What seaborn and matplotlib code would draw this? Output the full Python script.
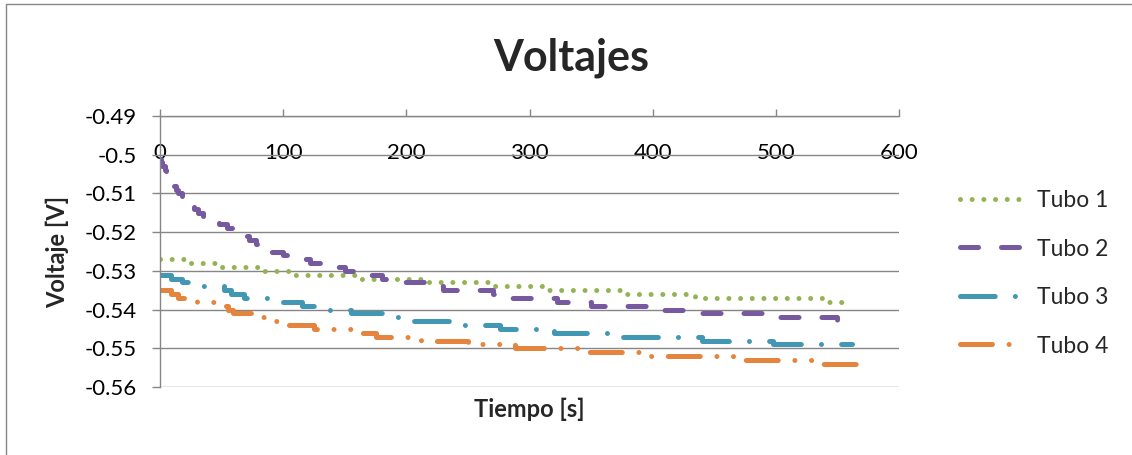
import matplotlib
matplotlib.use("Agg")
import matplotlib.pyplot as plt
import matplotlib.ticker as mticker
from matplotlib.lines import Line2D
import seaborn as sns
import pandas as pd

# step breakpoints (tiempo [s], voltaje [V])
tubo1_t = [0, 23, 45, 80, 110, 162, 215, 268, 312, 375, 434, 539, 561]
tubo1_v = [-0.527, -0.528, -0.529, -0.530, -0.531, -0.532, -0.533, -0.534,
           -0.535, -0.536, -0.537, -0.538, -0.538]

tubo2_t = [0, 1, 2, 4, 5, 7, 9, 11, 13, 15, 18, 21, 24, 28, 31, 35, 42, 48, 54,
           60, 66, 72, 78, 84, 89, 100, 112, 122, 130, 150, 165, 180, 190, 215,
           230, 270, 283, 322, 350, 405, 435, 492, 550, 559]
tubo2_v = [-0.501, -0.502, -0.503, -0.504, -0.505, -0.506, -0.507, -0.508,
           -0.509, -0.510, -0.511, -0.512, -0.513, -0.514, -0.515, -0.516,
           -0.517, -0.518, -0.519, -0.520, -0.521, -0.522, -0.523, -0.524,
           -0.525, -0.526, -0.527, -0.528, -0.529, -0.530, -0.531, -0.532,
           -0.533, -0.534, -0.535, -0.536, -0.537, -0.538, -0.539, -0.540,
           -0.541, -0.542, -0.543, -0.543]

tubo3_t = [0, 9, 18, 35, 52, 58, 68, 88, 115, 130, 155, 180, 200, 242, 276,
           320, 368, 440, 498, 562]
tubo3_v = [-0.531, -0.532, -0.533, -0.534, -0.535, -0.536, -0.537, -0.538,
           -0.539, -0.540, -0.541, -0.542, -0.543, -0.544, -0.545, -0.546,
           -0.547, -0.548, -0.549, -0.549]

tubo4_t = [0, 9, 15, 30, 45, 55, 59, 78, 92, 105, 125, 160, 175, 212, 250, 288,
           340, 395, 465, 537, 566]
tubo4_v = [-0.535, -0.536, -0.537, -0.538, -0.539, -0.540, -0.541, -0.542,
           -0.543, -0.544, -0.545, -0.546, -0.547, -0.548, -0.549, -0.550,
           -0.551, -0.552, -0.553, -0.554, -0.554]

labels = ["Tubo 1", "Tubo 2", "Tubo 3", "Tubo 4"]
colors = ["#94B354", "#76599F", "#4298B4", "#E5843C"]
x_ticks = [0, 100, 200, 300, 400, 500, 600]
y_ticks = [-0.56, -0.55, -0.54, -0.53, -0.52, -0.51, -0.50, -0.49]

sns.set_theme(style="white")
plt.rcParams["font.family"] = ["Lato", "DejaVu Sans"]
plt.rcParams["lines.scale_dashes"] = False

# dash patterns in points (round dot, dash, long dash dot, long dash dot dot)
dash_styles = [
    (0.01, 8.4),
    (13.0, 16.5),
    (25.0, 14.5, 0.01, 14.5),
    (23.0, 12.0, 0.01, 12.0, 0.01, 12.0),
]

frames = [
    pd.DataFrame({"t": tubo1_t, "v": tubo1_v}),
    pd.DataFrame({"t": tubo2_t, "v": tubo2_v}),
    pd.DataFrame({"t": tubo3_t, "v": tubo3_v}),
    pd.DataFrame({"t": tubo4_t, "v": tubo4_v}),
]

W, H = 1132, 455
fig = plt.figure(figsize=(W / 100, H / 100), dpi=100)
ax = fig.add_axes([160 / W, 1 - 387 / H, (899 - 160) / W, (387 - 116) / H])

grey = "#868686"
for df, lab, col, ds in zip(frames, labels, colors, dash_styles):
    sns.lineplot(data=df, x="t", y="v", ax=ax, color=col, lw=3.6,
                 drawstyle="steps-post", estimator=None, sort=False, label=lab)
    ln = ax.lines[-1]
    ln.set_dashes(ds)
    ln.set_dash_capstyle("round")
    ln.set_solid_capstyle("round")

ax.set_xlim(0, 600)
ax.set_ylim(-0.56, -0.49)
ax.set_xticks(x_ticks)
ax.set_yticks(y_ticks)
ax.yaxis.set_major_formatter(mticker.FuncFormatter(lambda v, p: f"{v:g}"))
ax.xaxis.set_major_formatter(mticker.FuncFormatter(lambda v, p: f"{v:g}"))

ax.grid(axis="y", color=grey, lw=1.0)
ax.grid(axis="x", visible=False)
ax.set_axisbelow(True)
for side in ["right", "bottom"]:
    ax.spines[side].set_visible(False)
for side in ["top", "left"]:
    ax.spines[side].set_color(grey)
    ax.spines[side].set_linewidth(1.0)

ax.xaxis.set_ticks_position("top")
ax.tick_params(axis="x", direction="out", length=5, width=1.0, color=grey,
               top=True, bottom=False, labeltop=True, labelbottom=False,
               pad=-39, labelsize=16, labelcolor="black")
ax.tick_params(axis="y", direction="out", length=5.8, width=1.0, color=grey,
               left=True, pad=11, labelsize=16, labelcolor="black")

ax.set_xlabel("")
ax.set_ylabel("")
fig.text(529.5 / W, 1 - 409 / H, "Tiempo [s]", ha="center", va="center",
         fontsize=17, fontweight="bold")
fig.text(57 / W, 1 - 251.5 / H, "Voltaje [V]", ha="center", va="center",
         rotation=90, fontsize=17, fontweight="bold")
fig.text(571 / W, 1 - 70 / H, "Voltajes", ha="center", va="baseline",
         fontsize=31, fontweight="bold")

handles, labs = ax.get_legend_handles_labels()
ax.legend(handles, labs, loc="upper left", bbox_to_anchor=(960 / W, 1 - 190 / H),
          bbox_transform=fig.transFigure, frameon=False, fontsize=16.5,
          handlelength=2.75, handletextpad=0.6, labelspacing=1.2,
          borderpad=0, borderaxespad=0)

# chart area border (left and top edges only are visible)
fig.add_artist(Line2D([6 / W, 6 / W], [0, 1 - 4 / H], transform=fig.transFigure,
                      color=grey, lw=1.0))
fig.add_artist(Line2D([6 / W, 1], [1 - 4 / H, 1 - 4 / H], transform=fig.transFigure,
                      color=grey, lw=1.0))

fig.savefig("out.png", dpi=100)
